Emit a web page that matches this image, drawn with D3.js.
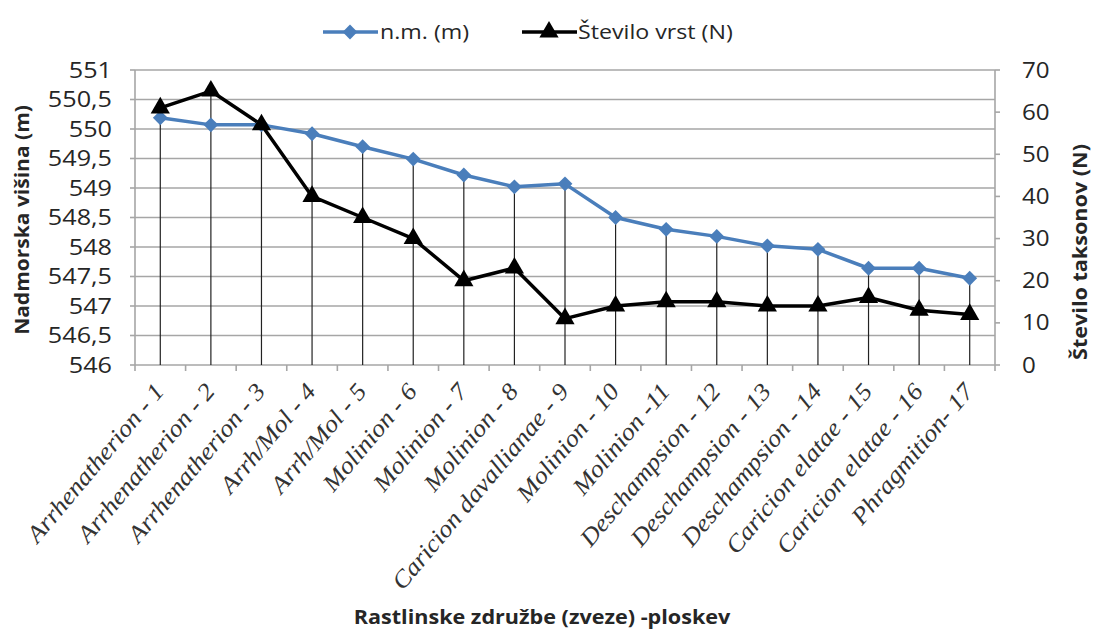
<!DOCTYPE html>
<html>
<head>
<meta charset="utf-8">
<script src="https://cdn.jsdelivr.net/npm/d3@7"></script>
<style>
  html, body { margin: 0; padding: 0; background: #fff; }
  svg { display: block; }
</style>
</head>
<body>
<svg id="chart" width="1094" height="632"></svg>
<script>
// Plant communities (alliances) along the transect, plot numbers 1–17
const categories = [
  "Arrhenatherion - 1", "Arrhenatherion - 2", "Arrhenatherion - 3",
  "Arrh/Mol - 4", "Arrh/Mol - 5", "Molinion - 6", "Molinion - 7",
  "Molinion - 8", "Caricion davallianae - 9", "Molinion - 10",
  "Molinion -11", "Deschampsion - 12", "Deschampsion - 13",
  "Deschampsion - 14", "Caricion elatae - 15", "Caricion elatae - 16",
  "Phragmition- 17"
];
// Altitude above sea level (m)
const altitude = [550.19, 550.07, 550.07, 549.92, 549.70, 549.49, 549.22, 549.02,
  549.07, 548.50, 548.30, 548.18, 548.02, 547.96, 547.64, 547.64, 547.47];
// Number of species (N)
const species = [61, 65, 57, 40, 35, 30, 20, 23, 11, 14, 15, 15, 14, 14, 16, 13, 12];

const leftTicks = [546, 546.5, 547, 547.5, 548, 548.5, 549, 549.5, 550, 550.5, 551];
const rightTicks = [0, 10, 20, 30, 40, 50, 60, 70];

const seriesNames = ["n.m. (m)", "Število vrst (N)"];
const axisTitles = {
  left: "Nadmorska višina (m)",
  right: "Število taksonov (N)",
  bottom: "Rastlinske združbe (zveze) -ploskev"
};

const svg = d3.select("#chart");
const plot = { left: 135, right: 995, top: 70, bottom: 365 };
const BLUE = "#4a7ebb";
const GRID = "#a6a6a6";
const SANS = "'Open Sans', sans-serif";
const SX = 1.16; // horizontal stretch of the sans labels

const x = d3.scaleBand().domain(categories).range([plot.left, plot.right]);
const cx = d => x(d) + x.bandwidth() / 2;
const yL = d3.scaleLinear().domain([546, 551]).range([plot.bottom, plot.top]);
const yR = d3.scaleLinear().domain([0, 70]).range([plot.bottom, plot.top]);
const fmt = d3.formatLocale({ decimal: ",", thousands: ".", grouping: [3], currency: ["", ""] }).format("~g");

// text with a stretch along its baseline
function stext(g, str, px, py, opts) {
  return g.append("text")
    .attr("transform", `translate(${px},${py}) ${opts.rotate ? `rotate(${opts.rotate})` : ""} scale(${opts.sx || SX},1)`)
    .attr("x", 0).attr("y", 0)
    .attr("font-family", opts.family || SANS)
    .attr("font-size", opts.size)
    .attr("font-weight", opts.weight || "normal")
    .attr("font-style", opts.style || "normal")
    .attr("fill", opts.fill || "#262626")
    .attr("text-anchor", opts.anchor || "start")
    .attr("dy", opts.dy || "0")
    .text(str);
}

// horizontal gridlines
svg.append("g").selectAll("line").data(leftTicks).join("line")
  .attr("x1", plot.left).attr("x2", plot.right)
  .attr("y1", d => yL(d)).attr("y2", d => yL(d))
  .attr("stroke", GRID).attr("stroke-width", 1.6);

// axis lines
svg.append("line").attr("x1", plot.left).attr("x2", plot.left)
  .attr("y1", plot.top).attr("y2", plot.bottom).attr("stroke", GRID).attr("stroke-width", 1.6);
svg.append("line").attr("x1", plot.right).attr("x2", plot.right)
  .attr("y1", plot.top).attr("y2", plot.bottom).attr("stroke", GRID).attr("stroke-width", 1.6);

// tick marks
svg.append("g").selectAll("line").data(leftTicks).join("line")
  .attr("x1", plot.left - 5).attr("x2", plot.left)
  .attr("y1", d => yL(d)).attr("y2", d => yL(d))
  .attr("stroke", GRID).attr("stroke-width", 1.6);
svg.append("g").selectAll("line").data(rightTicks).join("line")
  .attr("x1", plot.right).attr("x2", plot.right + 5)
  .attr("y1", d => yR(d)).attr("y2", d => yR(d))
  .attr("stroke", GRID).attr("stroke-width", 1.6);
const bounds = categories.map(c => x(c)).concat([plot.right]);
svg.append("g").selectAll("line").data(bounds).join("line")
  .attr("x1", d => d).attr("x2", d => d)
  .attr("y1", plot.bottom).attr("y2", plot.bottom + 6)
  .attr("stroke", GRID).attr("stroke-width", 1.6);

// drop lines from each category's highest point down to the axis
svg.append("g").selectAll("line").data(categories).join("line")
  .attr("x1", d => cx(d)).attr("x2", d => cx(d))
  .attr("y1", (d, i) => Math.min(yL(altitude[i]), yR(species[i])))
  .attr("y2", plot.bottom)
  .attr("stroke", "#222").attr("stroke-width", 1.2);

// tick labels
const tl = svg.append("g");
leftTicks.forEach(v => stext(tl, fmt(v), 112, yL(v), { size: 21, anchor: "end", dy: "0.36em", sx: 1.2 }));
rightTicks.forEach(v => stext(tl, fmt(v), 1022, yR(v), { size: 21, anchor: "start", dy: "0.36em", sx: 1.15 }));

// category labels
const cl = svg.append("g");
categories.forEach(c => {
  stext(cl, c, cx(c) + 5, plot.bottom + 27, {
    family: "'Liberation Serif', 'Times New Roman', serif",
    style: "italic", size: 24, anchor: "end", rotate: -50, sx: 1.1, fill: "#333"
  });
});

// series lines
const lineL = d3.line().x((d, i) => cx(categories[i])).y(d => yL(d));
const lineR = d3.line().x((d, i) => cx(categories[i])).y(d => yR(d));
svg.append("path").datum(altitude).attr("d", lineL)
  .attr("fill", "none").attr("stroke", BLUE).attr("stroke-width", 3.5).attr("stroke-linejoin", "round");
svg.append("path").datum(species).attr("d", lineR)
  .attr("fill", "none").attr("stroke", "#000").attr("stroke-width", 3.5).attr("stroke-linejoin", "round");

const diamond = d3.symbol().type(d3.symbolDiamond2).size(140);
const tri = d3.symbol().type(d3.symbolTriangle).size(160);
svg.append("g").selectAll("path").data(altitude).join("path")
  .attr("transform", (d, i) => `translate(${cx(categories[i])},${yL(d)})`)
  .attr("d", diamond).attr("fill", BLUE);
svg.append("g").selectAll("path").data(species).join("path")
  .attr("transform", (d, i) => `translate(${cx(categories[i])},${yR(d)})`)
  .attr("d", tri).attr("fill", "#000");

// legend
const lg = svg.append("g");
lg.append("line").attr("x1", 323).attr("x2", 378).attr("y1", 32).attr("y2", 32)
  .attr("stroke", BLUE).attr("stroke-width", 3.5);
lg.append("path").attr("transform", "translate(350,32)").attr("d", diamond).attr("fill", BLUE);
stext(lg, seriesNames[0], 380, 32, { size: 20, dy: "0.36em" });
lg.append("line").attr("x1", 522).attr("x2", 577).attr("y1", 32).attr("y2", 32)
  .attr("stroke", "#000").attr("stroke-width", 3.5);
lg.append("path").attr("transform", "translate(549,32)").attr("d", tri).attr("fill", "#000");
stext(lg, seriesNames[1], 578, 32, { size: 20, dy: "0.36em" });

// axis titles
const at = svg.append("g");
stext(at, axisTitles.left, 22, 220, { size: 20, weight: "bold", anchor: "middle", rotate: -90, dy: "0.35em", sx: 1.05 });
stext(at, axisTitles.right, 1080, 252, { size: 20, weight: "bold", anchor: "middle", rotate: -90, dy: "0.35em", sx: 1.08 });
stext(at, axisTitles.bottom, 542, 617, { size: 20, weight: "bold", anchor: "middle", dy: "0.35em", sx: 1.08 });
</script>
</body>
</html>
